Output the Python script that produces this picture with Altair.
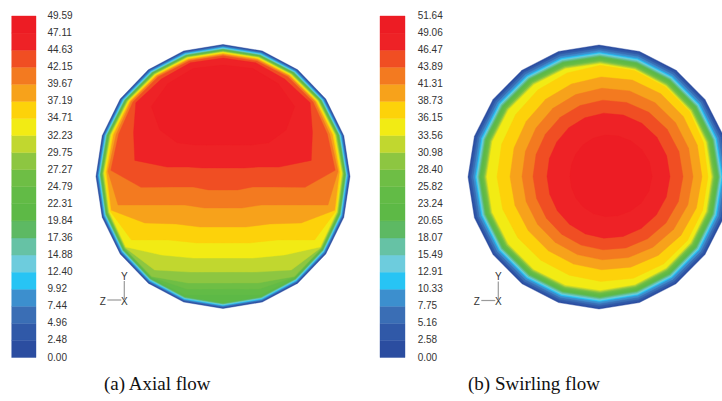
import math
import altair as alt

# ---------------- data ----------------
AXIAL_LEVELS = [49.59, 47.11, 44.63, 42.15, 39.67, 37.19, 34.71, 32.23, 29.75, 27.27,
                24.79, 22.31, 19.84, 17.36, 14.88, 12.40, 9.92, 7.44, 4.96, 2.48, 0.00]
SWIRL_LEVELS = [51.64, 49.06, 46.47, 43.89, 41.31, 38.73, 36.15, 33.56, 30.98, 28.40,
                25.82, 23.24, 20.65, 18.07, 15.49, 12.91, 10.33, 7.75, 5.16, 2.58, 0.00]
# band colours, lowest band first
BAND_COLORS = ["#2B4DA0", "#3059A8", "#3A6EB5", "#3C8FCE", "#27C4F4", "#6DCCDD", "#66C2A5",
               "#5DB963", "#5DB946", "#62BB46", "#6EBE45", "#8DC641", "#C1D72F", "#F2EB14",
               "#FDD20A", "#F7A21B", "#F37A20", "#F04E23", "#EE2226", "#ED1C24"]
CAPTIONS = ["(a) Axial flow", "(b) Swirling flow"]

# Contour data: distance (source-figure px) from the pipe wall, measured along the
# 20 rays that join each wall vertex (top first, clockwise) to the core of the flow.
# Axial flow: levels 1..8 share one wall-layer profile, levels 9..19 per ray.
AXIAL_WALL = [0.8, 1.5, 2.2, 2.9, 3.6, 4.2, 4.8, 5.4]
AXIAL_D9 = [5.9, 5.9, 6.0, 6.0, 6.2, 6.1, 6.1, 6.1, 6.5, 7.2, 13.5, 7.2, 6.5, 6.1, 6.1, 6.1, 6.2, 6.0, 6.0, 5.9]
AXIAL_D10 = [6.3, 6.3, 6.5, 6.5, 6.8, 6.7, 6.7, 6.7, 7.0, 13.3, 19.5, 13.3, 7.0, 6.7, 6.7, 6.7, 6.8, 6.5, 6.5, 6.3]
AXIAL_D11 = [6.7, 6.7, 7.0, 7.0, 7.4, 7.3, 7.3, 7.3, 7.6, 19.5, 25.5, 19.5, 7.6, 7.3, 7.3, 7.3, 7.4, 7.0, 7.0, 6.7]
AXIAL_D12 = [7.2, 7.2, 7.6, 7.6, 8.0, 8.0, 8.0, 8.0, 14.7, 30.7, 36.5, 30.7, 14.7, 8.0, 8.0, 8.0, 8.0, 7.6, 7.6, 7.2]
AXIAL_D13 = [7.8, 7.8, 8.3, 8.4, 9.0, 9.0, 9.0, 9.0, 31.2, 45.0, 50.5, 45.0, 31.2, 9.0, 9.0, 9.0, 9.0, 8.4, 8.3, 7.8]
AXIAL_D14 = [8.5, 8.5, 9.0, 9.2, 10.0, 10.0, 10.0, 18.0, 47.8, 60.5, 65.5, 60.5, 47.8, 18.0, 10.0, 10.0, 10.0, 9.2, 9.0, 8.5]
AXIAL_D15 = [9.3, 9.3, 9.8, 10.1, 11.5, 11.5, 11.5, 39.6, 65.5, 76.8, 81.5, 76.8, 65.5, 39.6, 11.5, 11.5, 11.5, 10.1, 9.8, 9.3]
AXIAL_D16 = [10.2, 10.2, 10.8, 11.2, 14.0, 13.0, 20.0, 62.5, 86.4, 96.3, 100.5, 96.3, 86.4, 62.5, 20.0, 13.0, 14.0, 11.2, 10.8, 10.2]
AXIAL_D17 = [11.3, 11.5, 12.2, 13.0, 16.5, 16.0, 49.0, 85.4, 106.3, 114.8, 118.5, 114.8, 106.3, 85.4, 49.0, 16.0, 16.5, 13.0, 12.2, 11.5]
AXIAL_D18 = [13.5, 13.5, 16.0, 16.0, 31.5, 42.0, 82.0, 110.8, 127.3, 137.3, 140.5, 137.3, 127.3, 110.8, 82.0, 42.0, 31.5, 16.0, 16.0, 13.5]
AXIAL_D19 = [20.5, 20.0, 24.0, 32.0, 58.0, 88.0, 118.0, 138.8, 152.6, 160.9, 163.5, 160.9, 152.6, 138.8, 118.0, 88.0, 58.0, 32.0, 24.0, 20.0]
# Swirling flow: levels 1..13 share one rim profile, levels 14..19 per ray.
SWIRL_RIM = [1.6, 3.4, 5.4, 7.4, 8.6, 9.8, 11.0, 12.2, 13.6, 15.0, 16.3, 17.5, 18.7]
SWIRL_D14 = [20.3, 19.6, 19.6, 19.6, 21.1, 22.0, 22.2, 22.5, 23.4, 25.0, 27.6, 29.4, 30.1, 30.0, 29.5, 29.0, 28.4, 27.2, 25.3, 23.1]
SWIRL_D15 = [32.0, 29.5, 28.0, 27.6, 27.7, 28.0, 28.9, 30.8, 33.5, 36.4, 39.3, 41.3, 42.3, 42.6, 42.4, 42.0, 41.3, 39.8, 37.5, 35.0]
SWIRL_D16 = [43.3, 40.7, 38.7, 37.5, 37.0, 37.0, 38.0, 40.2, 43.2, 46.3, 49.3, 51.5, 53.1, 53.9, 54.2, 54.0, 53.2, 51.6, 49.1, 46.4]
SWIRL_D17 = [55.3, 52.6, 50.1, 48.2, 47.2, 47.0, 48.0, 50.2, 53.2, 56.3, 59.3, 61.7, 63.5, 64.6, 65.1, 65.0, 64.3, 62.9, 60.7, 58.2]
SWIRL_D18 = [68.3, 65.6, 63.1, 61.2, 60.2, 60.0, 60.9, 62.7, 65.3, 68.1, 71.0, 73.7, 76.1, 77.9, 78.9, 79.0, 78.2, 76.6, 74.1, 71.4]
SWIRL_D19 = [90.3, 87.3, 83.9, 80.7, 78.6, 78.0, 79.3, 82.1, 85.9, 89.5, 92.6, 95.5, 98.3, 100.4, 101.8, 102.0, 101.2, 99.3, 96.5, 93.5]

# ---------------- layout ----------------
N_RAYS = 20
PANELS = [
    dict(cx=223.0, cy=176.5, rx=127.0, ry=132.0, ref=(223.0, 123.7),
         bar_x=11.7, bar_w=24.3, label_x=47.5, triad=(124.3, 300.0), cap_x=104.0),
    dict(cx=599.0, cy=177.0, rx=131.0, ry=132.0, ref=(608.0, 176.0),
         bar_x=380.0, bar_w=25.0, label_x=417.7, triad=(498.3, 300.5), cap_x=468.0),
]
BAR_TOP, BAR_BOTTOM = 16.0, 357.5

axial_depths = [[0.0] * N_RAYS] + [[v] * N_RAYS for v in AXIAL_WALL] + [
    AXIAL_D9, AXIAL_D10, AXIAL_D11, AXIAL_D12, AXIAL_D13, AXIAL_D14,
    AXIAL_D15, AXIAL_D16, AXIAL_D17, AXIAL_D18, AXIAL_D19]
swirl_depths = [[0.0] * N_RAYS] + [[v] * N_RAYS for v in SWIRL_RIM] + [
    SWIRL_D14, SWIRL_D15, SWIRL_D16, SWIRL_D17, SWIRL_D18, SWIRL_D19]


def wall_points(p):
    pts = []
    for j in range(N_RAYS):
        th = math.radians(90 - 360.0 / N_RAYS * j)
        pts.append((p["cx"] + p["rx"] * math.cos(th), p["cy"] - p["ry"] * math.sin(th)))
    return pts


def contour_ring(p, depths):
    ring = []
    rx0, ry0 = p["ref"]
    for (wx, wy), d in zip(wall_points(p), depths):
        vx, vy = rx0 - wx, ry0 - wy
        L = math.hypot(vx, vy)
        ring.append([wx + vx / L * d, wy + vy / L * d])
    ring.append(ring[0])
    return ring


def poly_feature(ring, color):
    return {"type": "Feature", "geometry": {"type": "Polygon", "coordinates": [ring]},
            "properties": {"color": color}}


features = []
for p, depth_sets in zip(PANELS, [axial_depths, swirl_depths]):
    for lvl, depths in enumerate(depth_sets):
        features.append(poly_feature(contour_ring(p, depths), BAND_COLORS[lvl]))
    step = (BAR_BOTTOM - BAR_TOP) / len(BAND_COLORS)
    for b, col in enumerate(BAND_COLORS):
        y0 = BAR_BOTTOM - b * step
        y1 = BAR_BOTTOM - (b + 1) * step
        x0, x1 = p["bar_x"], p["bar_x"] + p["bar_w"]
        features.append(poly_feature([[x0, y0], [x1, y0], [x1, y1], [x0, y1], [x0, y0]], col))

label_rows = []
for p, levels in zip(PANELS, [AXIAL_LEVELS, SWIRL_LEVELS]):
    step = (BAR_BOTTOM - BAR_TOP) / (len(levels) - 1)
    for i, v in enumerate(levels):
        label_rows.append({"x": p["label_x"], "y": BAR_TOP + i * step, "t": f"{v:.2f}"})

triad_lines = []
triad_rows = []
for p in PANELS:
    ox, oy = p["triad"]
    triad_lines.append({"type": "Feature", "properties": {},
                        "geometry": {"type": "LineString", "coordinates": [[ox, oy - 19], [ox, oy - 1]]}})
    triad_lines.append({"type": "Feature", "properties": {},
                        "geometry": {"type": "LineString", "coordinates": [[ox - 17, oy], [ox - 3, oy]]}})
    triad_rows += [{"x": ox, "y": oy - 23.5, "t": "Y"},
                   {"x": ox - 21.6, "y": oy + 1.5, "t": "Z"},
                   {"x": ox, "y": oy + 1.5, "t": "X"}]

caption_rows = [{"x": p["cap_x"], "y": 383.5, "t": c} for p, c in zip(PANELS, CAPTIONS)]

proj = alt.Projection(type="identity", scale=1, translate=[0, 0])

shapes = alt.Chart(alt.Data(values=features)).mark_geoshape(strokeWidth=0.4).encode(
    fill=alt.Fill("properties.color:N", scale=None),
    stroke=alt.Stroke("properties.color:N", scale=None),
).properties(projection=proj)

lines = alt.Chart(alt.Data(values=triad_lines)).mark_geoshape(
    filled=False, stroke="#9a9a9a", strokeWidth=1.2).properties(projection=proj)

bar_labels = alt.Chart(alt.Data(values=label_rows)).mark_text(
    align="left", baseline="middle", font="Liberation Sans", fontSize=10, color="#333333"
).encode(longitude="x:Q", latitude="y:Q", text="t:N").properties(projection=proj)

triad_text = alt.Chart(alt.Data(values=triad_rows)).mark_text(
    align="center", baseline="middle", font="Liberation Sans", fontSize=10, color="#333333"
).encode(longitude="x:Q", latitude="y:Q", text="t:N").properties(projection=proj)

captions = alt.Chart(alt.Data(values=caption_rows)).mark_text(
    align="left", baseline="middle", font="Liberation Serif", fontSize=19, color="#111111"
).encode(longitude="x:Q", latitude="y:Q", text="t:N").properties(projection=proj)

chart = alt.layer(shapes, lines, bar_labels, triad_text, captions).properties(
    width=722, height=401, padding=0, autosize="none"
).configure_view(strokeWidth=0)

chart.save("out.html", embed_options={"renderer": "svg", "actions": False})
